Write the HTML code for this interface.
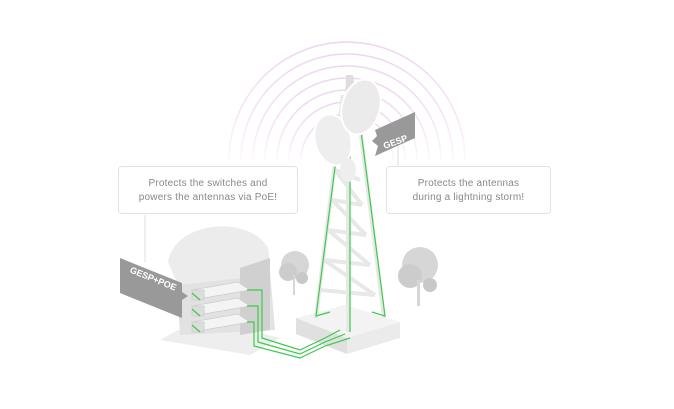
<!DOCTYPE html>
<html><head><style>
html,body{margin:0;padding:0;background:#fff;}
.box{position:absolute;border:1px solid #e2e2e2;border-radius:4px;background:#fff;font-family:"Liberation Sans",sans-serif;font-size:10px;color:#888;text-align:center;line-height:14px;letter-spacing:0.2px;}
</style></head><body>
<div style="position:relative;width:674px;height:409px;overflow:hidden;">
<svg width="674" height="409" style="position:absolute;left:0;top:0">
<defs><linearGradient id="g" x1="0" y1="0" x2="0" y2="1" gradientUnits="objectBoundingBox">
<stop offset="0" stop-color="#efd6f0"/><stop offset="0.6" stop-color="#f5e6f6"/><stop offset="1" stop-color="#fdf8fd"/></linearGradient></defs>
<g fill="none" stroke="url(#g)" stroke-width="1.6">
<path d="M229,160 A118,118 0 0 1 465,160"/>
<path d="M241,160 A106,106 0 0 1 453,160"/>
<path d="M253,160 A94,94 0 0 1 441,160"/>
<path d="M265,160 A82,82 0 0 1 429,160"/>
<path d="M277,160 A70,70 0 0 1 417,160"/>
<path d="M289,160 A58,58 0 0 1 405,160"/>
<path d="M301,160 A46,46 0 0 1 393,160"/>
</g>
<line x1="145" y1="215" x2="145" y2="262" stroke="#ddd"/>
<line x1="398" y1="140" x2="398" y2="166" stroke="#ddd"/>
<!-- building -->
<polygon points="160,340 250,355 280,338 200,318" fill="#eee"/>
<polygon points="175,258 268,248 275,330 180,335" fill="#e2e2e2"/>
<path d="M168,262 C175,220 250,215 268,248 L268,275 L178,285 Z" fill="#ececec"/>
<polygon points="240,268 270,258 270,330 240,335" fill="#d0d0d0"/>
<g fill="#f4f4f4" stroke="#ccc" stroke-width="0.8">
<polygon points="192,290 238,282 250,290 204,298"/><rect x="192" y="290" width="12" height="10" fill="#ddd"/>
<polygon points="192,306 238,298 250,306 204,314"/><rect x="192" y="306" width="12" height="10" fill="#ddd"/>
<polygon points="192,322 238,314 250,322 204,330"/><rect x="192" y="322" width="12" height="10" fill="#ddd"/>
</g>
<!-- trees -->
<g fill="#d6d6d6"><circle cx="295" cy="265" r="14"/><circle cx="288" cy="272" r="9" fill="#ccc"/><circle cx="302" cy="278" r="6" fill="#c8c8c8"/><rect x="293" y="275" width="2" height="20"/></g>
<g fill="#d6d6d6"><circle cx="420" cy="265" r="18"/><circle cx="410" cy="276" r="12" fill="#ccc"/><circle cx="430" cy="285" r="7" fill="#c8c8c8"/><rect x="417" y="280" width="3" height="26"/></g>
<!-- platform -->
<polygon points="296,318 345,305 400,322 347,338" fill="#f3f3f3"/>
<polygon points="296,318 347,338 347,354 296,334" fill="#e0e0e0"/>
<polygon points="347,338 400,322 400,338 347,354" fill="#ebebeb"/>
<!-- tower -->
<g stroke="#e8e8e8" stroke-width="4" fill="none">
<line x1="343" y1="95" x2="316" y2="318"/><line x1="355" y1="88" x2="384" y2="318"/><line x1="348" y1="100" x2="348" y2="332"/>
<path d="M335,170 L360,180 M332,200 L362,205 M328,230 L366,235 M324,260 L370,265 M320,290 L375,295"/>
<path d="M335,170 L362,205 M332,200 L366,235 M328,230 L370,265 M324,260 L375,295"/>
</g>
<g stroke="#3ec94e" stroke-width="1.2" fill="none">
<path d="M343,105 L316,316 L330,312"/><path d="M357,100 L385,316 L372,312"/><path d="M350,105 L350,332"/>
<path d="M247,290 L262,290 L262,338 L300,350 L325,338 L340,330"/>
<path d="M247,306 L258,306 L258,342 L300,354 L325,342 L345,334"/>
<path d="M247,322 L254,322 L254,346 L300,358 L325,346 L350,338"/>
<path d="M192,293 L200,300 M192,309 L200,316 M192,325 L200,332"/>
</g>
<!-- antennas -->
<polygon points="346,75 353,75 358,110 345,110" fill="#ddd"/>
<ellipse cx="333" cy="140" rx="18" ry="26" fill="#eeeeee" stroke="#fff" stroke-width="2" transform="rotate(-15 333 140)"/>
<ellipse cx="361" cy="107" rx="19" ry="28" fill="#ebebeb" stroke="#fff" stroke-width="2" transform="rotate(15 361 107)"/>
<ellipse cx="348" cy="170" rx="8" ry="12" fill="#eee"/>
<!-- GESP tag -->
<polygon points="375,130 415,112 415,138 375,156 378,146 372,141 377,136" fill="#999"/>
<text x="382" y="146" transform="rotate(-20 392 140)" font-family="Liberation Sans" font-weight="bold" font-size="9" fill="#fff">GESP</text>
<!-- GESP+POE tag -->
<polygon points="120,258 182,283 182,292 188,296 182,300 182,318 120,293" fill="#999"/>
<text x="126" y="281" transform="rotate(22 150 285)" font-family="Liberation Sans" font-weight="bold" font-size="9" fill="#fff">GESP+POE</text>
</svg>
<div class="box" style="left:118px;top:166px;width:180px;height:48px;padding-top:10px;box-sizing:border-box;">Protects the switches and<br>powers the antennas via PoE!</div>
<div class="box" style="left:386px;top:166px;width:165px;height:48px;padding-top:10px;box-sizing:border-box;">Protects the antennas<br>during a lightning storm!</div>
</div>
</body></html>
